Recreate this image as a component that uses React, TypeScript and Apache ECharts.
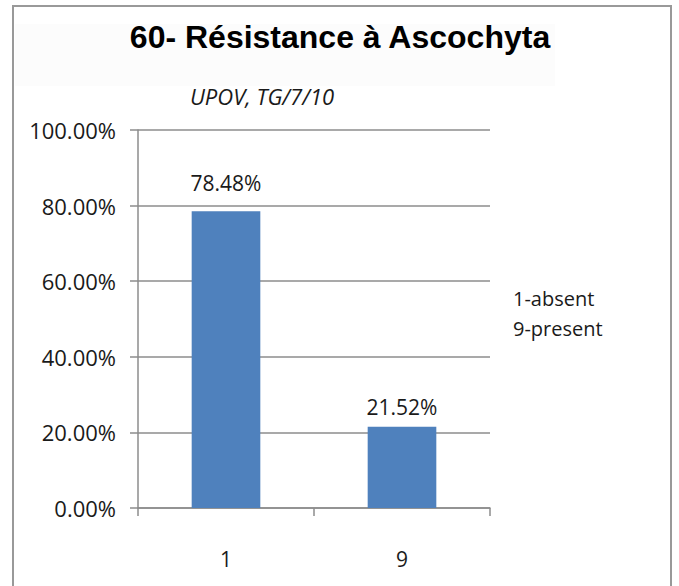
import React, { useEffect, useRef } from "react";
import * as echarts from "echarts";

const categories = ["1", "9"];
const values = [0.7848, 0.2152];
const labelDistances = [18, 9];
const yTicks = { min: 0, max: 1, interval: 0.2 };
const titleText = "60- Résistance à Ascochyta";
const subtitleText = "UPOV, TG/7/10";
const legendLines = ["1-absent", "9-present"];

const BODY_FONT = "'Open Sans', sans-serif";

export default function App() {
  const ref = useRef<HTMLDivElement>(null);
  useEffect(() => {
    if (!ref.current) return;
    const chart = echarts.init(ref.current, undefined, { renderer: "svg" });
    const gray = "#8c8c8c";
    chart.setOption({
      animation: false,
      backgroundColor: "#ffffff",
      grid: { left: 138, right: 189, top: 130, bottom: 78, containLabel: false },
      xAxis: {
        type: "category",
        data: categories,
        axisLine: { show: true, lineStyle: { color: gray, width: 1.5 } },
        axisTick: { show: true, length: 8, lineStyle: { color: gray, width: 1.5 } },
        axisLabel: { margin: 40, color: "#1a1a1a", fontSize: 21, fontFamily: BODY_FONT },
      },
      yAxis: {
        type: "value",
        min: yTicks.min,
        max: yTicks.max,
        interval: yTicks.interval,
        axisLine: { show: true, lineStyle: { color: gray, width: 1.5 } },
        axisTick: { show: true, length: 8, lineStyle: { color: gray, width: 1.5 } },
        splitLine: { show: true, lineStyle: { color: gray, width: 1.5 } },
        axisLabel: {
          margin: 22,
          color: "#1a1a1a",
          fontSize: 22,
          fontFamily: BODY_FONT,
          formatter: (v: number) => (v * 100).toFixed(2) + "%",
        },
      },
      series: [
        {
          type: "bar",
          barWidth: "39%",
          data: values.map((v, i) => ({
            value: v,
            label: { distance: labelDistances[i] },
          })),
          itemStyle: { color: "#4f81bd" },
          label: {
            show: true,
            position: "top",
            color: "#1a1a1a",
            fontSize: 21,
            fontFamily: BODY_FONT,
            formatter: (p: any) => (p.value * 100).toFixed(2) + "%",
          },
        },
      ],
      graphic: [
        {
          type: "rect",
          shape: { x: 15, y: 24, width: 540, height: 62 },
          style: { fill: "#fcfcfc" },
          z: -10,
        },
        {
          type: "rect",
          shape: { x: 13, y: 6, width: 658, height: 620 },
          style: { fill: "none", stroke: "#999999", lineWidth: 2 },
          z: 10,
        },
        {
          type: "text",
          x: 340,
          y: 37,
          style: {
            text: titleText,
            fill: "#000000",
            font: "bold 32px 'Liberation Sans', Arial, sans-serif",
            textAlign: "center",
            textVerticalAlign: "middle",
          },
        },
        {
          type: "text",
          x: 262,
          y: 96,
          style: {
            text: subtitleText,
            fill: "#1a1a1a",
            font: "italic 22px 'Open Sans', sans-serif",
            textAlign: "center",
            textVerticalAlign: "middle",
          },
        },
        ...legendLines.map((t, i) => ({
          type: "text",
          x: 513,
          y: 298 + i * 30,
          style: {
            text: t,
            fill: "#1a1a1a",
            font: "20px 'Open Sans', sans-serif",
            textAlign: "left",
            textVerticalAlign: "middle",
          },
        })),
      ],
    });
    return () => chart.dispose();
  }, []);
  return (
    <div
      ref={ref}
      style={{ position: "fixed", left: 0, top: 0, width: 679, height: 586 }}
    />
  );
}
